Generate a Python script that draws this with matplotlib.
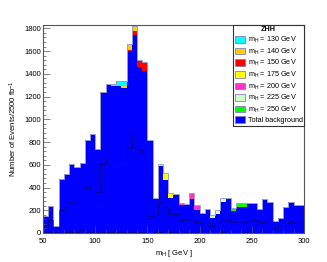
import numpy as np
import matplotlib
matplotlib.use('Agg')
from matplotlib import pyplot as plt
from matplotlib.patches import Patch
from matplotlib.ticker import MultipleLocator

plt.rcParams['font.family'] = ['Liberation Sans', 'DejaVu Sans']
plt.rcParams['mathtext.default'] = 'regular'

# 5 GeV bins from 50 to 300
edges = np.arange(50, 305, 5)

background = [150, 238, 65, 476, 520, 605, 580, 615, 818, 873,
              738, 1242, 1315, 1296, 1290, 1272, 1600, 1743, 1456, 1427,
              818, 295, 587, 470, 304, 330, 243, 243, 300, 199,
              172, 201, 134, 166, 274, 303, 196, 231, 231, 258,
              266, 207, 298, 269, 108, 128, 231, 270, 248, 242]

sig130 = [0, 0, 0, 0, 0, 0, 0, 0, 0, 0,
          0, 0, 0, 12, 40, 50, 0, 0, 0, 0,
          0, 0, 0, 0, 0, 0, 0, 0, 0, 0,
          0, 0, 0, 0, 0, 0, 0, 0, 0, 0,
          0, 0, 0, 0, 0, 0, 0, 0, 0, 0]
sig140 = [0, 0, 0, 0, 0, 0, 0, 0, 0, 0,
          0, 0, 0, 0, 5, 18, 60, 45, 0, 0,
          0, 0, 0, 0, 0, 0, 0, 0, 0, 0,
          0, 0, 0, 0, 0, 0, 0, 0, 0, 0,
          0, 0, 0, 0, 0, 0, 0, 0, 0, 0]
sig150 = [0, 0, 0, 0, 0, 0, 0, 0, 0, 0,
          0, 0, 0, 0, 0, 0, 6, 35, 65, 73,
          0, 0, 0, 0, 0, 0, 0, 0, 0, 0,
          0, 0, 0, 0, 0, 0, 0, 0, 0, 0,
          0, 0, 0, 0, 0, 0, 0, 0, 0, 0]
sig175 = [0, 0, 0, 0, 0, 0, 0, 0, 0, 0,
          0, 0, 0, 0, 0, 0, 0, 0, 0, 0,
          4, 15, 17, 61, 52, 5, 0, 0, 0, 0,
          0, 0, 0, 0, 0, 0, 0, 0, 0, 0,
          0, 0, 0, 0, 0, 0, 0, 0, 0, 0]
sig200 = [0, 0, 0, 0, 0, 0, 0, 0, 0, 0,
          0, 0, 0, 0, 0, 0, 0, 0, 0, 0,
          0, 0, 0, 0, 0, 8, 17, 14, 53, 46,
          5, 0, 0, 0, 0, 0, 0, 0, 0, 0,
          0, 0, 0, 0, 0, 0, 0, 0, 0, 0]
sig225 = [0, 0, 0, 0, 0, 0, 0, 0, 0, 0,
          0, 0, 0, 0, 0, 0, 0, 0, 0, 0,
          0, 0, 0, 0, 0, 0, 0, 0, 0, 0,
          0, 6, 24, 35, 30, 6, 0, 0, 0, 0,
          0, 0, 0, 0, 0, 0, 0, 0, 0, 0]
sig250 = [0, 0, 0, 0, 0, 0, 0, 0, 0, 0,
          0, 0, 0, 0, 0, 0, 0, 0, 0, 0,
          0, 0, 0, 0, 0, 0, 0, 0, 0, 0,
          0, 0, 0, 0, 0, 0, 20, 29, 35, 8,
          2, 0, 0, 0, 0, 0, 0, 0, 0, 0]

# background components drawn as outlines
bkg_part1 = [55, 114, 10, 200, 230, 270, 260, 260, 400, 420,
             360, 610, 650, 630, 630, 630, 750, 865, 730, 700,
             150, 158, 274, 231, 163, 163, 114, 114, 120, 94,
             85, 105, 64, 85, 105, 114, 94, 105, 99, 105,
             114, 99, 99, 70, 41, 70, 85, 99, 85, 85]
bkg_part2 = [5, 8, 2, 4, 6, 5, 8, 30, 10, 6,
             5, 8, 10, 6, 12, 8, 6, 10, 8, 6,
             4, 6, 5, 4, 6, 5, 4, 6, 5, 4,
             3, 4, 3, 4, 5, 4, 3, 4, 5, 4,
             3, 4, 3, 4, 2, 3, 4, 3, 4, 3]

signals = [('130', sig130, '#00ffff'), ('140', sig140, '#ffcc00'),
           ('150', sig150, '#ff0000'), ('175', sig175, '#ffff00'),
           ('200', sig200, '#ff33cc'), ('225', sig225, '#ccffcc'),
           ('250', sig250, '#00ff00')]

fig = plt.figure(figsize=(3.27, 2.62), dpi=100)
ax = fig.add_axes([0.1315, 0.1107, 0.798, 0.794])

bottom = np.array(background, dtype=float)
ax.stairs(bottom, edges, baseline=0, fill=True, color='#0000ff')
for name, vals, col in reversed(signals):
    top = bottom + np.array(vals)
    ax.stairs(top, edges, baseline=bottom, fill=True, color=col)
    bottom = top
ax.stairs(bottom, edges, baseline=None, color='#a0a0c8', lw=0.7)
ax.stairs(bkg_part1, edges, baseline=None, color='#000050', lw=0.4)
ax.stairs(bkg_part2, edges, baseline=None, color='#000050', lw=0.4)

ax.set_xlim(50, 300)
ax.set_ylim(0, 1830)
ax.xaxis.set_major_locator(MultipleLocator(50))
ax.xaxis.set_minor_locator(MultipleLocator(10))
ax.yaxis.set_major_locator(MultipleLocator(200))
ax.yaxis.set_minor_locator(MultipleLocator(40))
ax.tick_params(which='both', direction='in', top=False, right=False,
               labelsize=5.5, pad=1.5, width=0.5, color='#555555')
ax.tick_params(axis='x', which='both', pad=3.5)
ax.tick_params(which='major', length=5)
ax.tick_params(which='minor', length=2.5)
for s in ax.spines.values():
    s.set_linewidth(0.8)
    s.set_color('#555555')

ax.set_xlabel('m$_{H}$ [ GeV ]', fontsize=5.5, labelpad=2)
ax.set_ylabel('Number of Events/2500 fb$^{-1}$', fontsize=5.5, labelpad=4)

handles = [Patch(facecolor=col, edgecolor='#8080c0', lw=0.6) for _, _, col in signals]
labels = ['m$_{H}$ = %s GeV' % name for name, _, _ in signals]
handles.append(Patch(facecolor='#0000ff', edgecolor='#8080c0', lw=0.6))
labels.append('Total background')
leg = ax.legend(handles, labels, title='ZHH', loc='upper right',
                bbox_to_anchor=(1.0, 1.0), borderaxespad=0, fontsize=5.2,
                title_fontsize=5.2, fancybox=False, framealpha=1,
                edgecolor='#333333', handlelength=1.5, handleheight=1.0,
                handletextpad=0.3, labelspacing=0.2, borderpad=0.2)
leg.get_title().set_fontweight('bold')
leg.get_frame().set_linewidth(0.8)

fig.savefig('out.png', dpi=100)
